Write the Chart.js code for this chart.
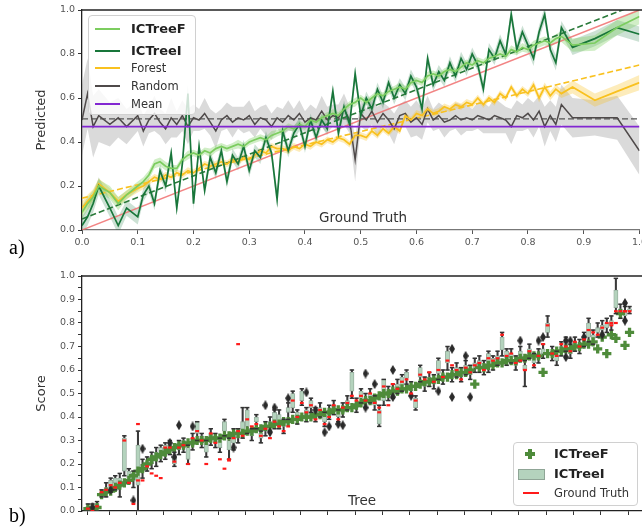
<!DOCTYPE html>
<html><head><meta charset="utf-8">
<script src="https://cdn.jsdelivr.net/npm/chart.js@4.4.1/dist/chart.umd.min.js"></script>
<style>
html,body{margin:0;padding:0;background:#fff;overflow:hidden;width:642px;height:529px;}
#wrap{position:relative;width:642px;height:529px;overflow:hidden;background:#fff;}
canvas{position:absolute;left:0;}
#c1{top:0;}
#c2{top:262px;}
.ov{position:absolute;font-family:"DejaVu Sans",sans-serif;color:#333;white-space:nowrap;}
.serif{position:absolute;font-family:"Liberation Serif","DejaVu Serif",serif;font-size:20px;color:#000;}
.box{position:absolute;background:rgba(255,255,255,0.8);border:1px solid #d0d0d0;border-radius:4px;}
.sw{position:absolute;height:2px;}
.lt{position:absolute;font-family:"DejaVu Sans",sans-serif;font-size:11.5px;line-height:14px;color:#333;white-space:nowrap;}
.lt.b{font-weight:bold;font-size:13px;color:#222;}
</style></head>
<body><div id="wrap">
<canvas id="c1" width="650" height="255"></canvas>
<canvas id="c2" width="652" height="267"></canvas>

<div class="box" style="left:88px;top:15px;width:106px;height:98px;"></div>
<div class="sw" style="left:95px;top:28px;width:25px;background:#7ccd5f"></div>
<div class="lt b" style="left:131px;top:22px">ICTreeF</div>
<div class="sw" style="left:95px;top:50px;width:25px;background:#18763a"></div>
<div class="lt b" style="left:131px;top:44px">ICTreeI</div>
<div class="sw" style="left:95px;top:67px;width:25px;background:#f9c11f"></div>
<div class="lt" style="left:131px;top:61px">Forest</div>
<div class="sw" style="left:95px;top:85px;width:25px;background:#4f4a4a"></div>
<div class="lt" style="left:131px;top:79px">Random</div>
<div class="sw" style="left:95px;top:103px;width:25px;background:#8227d1"></div>
<div class="lt" style="left:131px;top:97px">Mean</div>

<div class="ov" style="left:363px;top:209px;font-size:13.5px;transform:translateX(-50%);">Ground Truth</div>
<div class="ov" style="left:362px;top:492px;font-size:13.5px;transform:translateX(-50%);">Tree</div>
<div class="serif" style="left:9px;top:236px;">a)</div>
<div class="serif" style="left:9px;top:504px;">b)</div>

<div class="box" style="left:513px;top:442px;width:123px;height:62px;"></div>
<div style="position:absolute;left:525px;top:452px;width:10px;height:3.5px;background:#4e8b3a"></div>
<div style="position:absolute;left:528.3px;top:448.7px;width:3.5px;height:10px;background:#4e8b3a"></div>
<div class="lt b" style="left:554px;top:447px">ICTreeF</div>
<div style="position:absolute;left:518px;top:469px;width:25px;height:9px;background:#b4d3bd;border:1px solid #8fa596"></div>
<div class="lt b" style="left:554px;top:467px">ICTreeI</div>
<div style="position:absolute;left:523px;top:492px;width:16px;height:1.5px;background:#ff1a1a"></div>
<div class="lt" style="left:554px;top:486px;">Ground Truth</div>
</div>
<script>
// ---------- Panel a) data ----------
const xs = [0,0.01,0.02,0.03,0.05,0.065,0.08,0.10,
 0.11,0.12,0.13,0.14,0.15,0.16,0.17,0.18,0.19,0.20,
 0.21,0.22,0.23,0.24,0.25,0.26,0.27,0.28,0.29,0.30,
 0.31,0.32,0.33,0.34,0.35,0.36,0.37,0.38,0.39,0.40,
 0.41,0.42,0.43,0.44,0.45,0.46,0.47,0.48,0.49,0.50,
 0.51,0.52,0.53,0.54,0.55,0.56,0.57,0.58,0.59,0.60,
 0.61,0.62,0.63,0.64,0.65,0.66,0.67,0.68,0.69,0.70,
 0.71,0.72,0.73,0.74,0.75,0.76,0.77,0.78,0.79,0.80,
 0.81,0.82,0.83,0.84,0.85,0.86,
 0.88,0.92,0.96,1.00];
const icTreeF = [0.08,0.12,0.15,0.20,0.17,0.12,0.16,0.20,
 0.22,0.25,0.30,0.31,0.29,0.28,0.28,0.32,0.34,0.35,
 0.34,0.36,0.35,0.37,0.38,0.37,0.38,0.39,0.38,0.40,
 0.41,0.42,0.41,0.43,0.44,0.45,0.47,0.46,0.48,0.47,
 0.50,0.49,0.51,0.52,0.53,0.52,0.55,0.57,0.58,0.60,
 0.58,0.60,0.62,0.61,0.63,0.64,0.65,0.64,0.67,0.68,
 0.67,0.70,0.71,0.70,0.72,0.73,0.72,0.74,0.76,0.75,
 0.77,0.76,0.78,0.79,0.80,0.79,0.82,0.81,0.83,0.82,
 0.84,0.85,0.86,0.85,0.87,0.88,
 0.84,0.85,0.92,0.97];
const icTreeI = [0.02,0.06,0.12,0.20,0.10,0.02,0.10,0.06,
 0.16,0.20,0.12,0.27,0.20,0.35,0.10,0.30,0.62,0.12,
 0.38,0.18,0.33,0.26,0.36,0.22,0.34,0.30,0.38,0.27,
 0.36,0.33,0.42,0.35,0.14,0.45,0.36,0.44,0.48,0.38,
 0.50,0.42,0.50,0.46,0.63,0.44,0.56,0.48,0.71,0.52,
 0.60,0.55,0.64,0.58,0.67,0.60,0.66,0.62,0.70,0.65,
 0.55,0.78,0.66,0.72,0.68,0.76,0.70,0.78,0.73,0.80,
 0.75,0.64,0.82,0.78,0.86,0.80,0.98,0.82,0.90,0.84,
 0.78,0.90,0.98,0.82,0.76,0.92,
 0.83,0.87,0.92,0.89];
const forest = [0.10,0.13,0.16,0.21,0.17,0.13,0.16,0.19,
 0.20,0.22,0.24,0.23,0.25,0.24,0.26,0.25,0.27,0.26,
 0.28,0.30,0.29,0.30,0.31,0.30,0.32,0.31,0.33,0.32,
 0.34,0.36,0.35,0.38,0.37,0.37,0.36,0.38,0.37,0.39,
 0.38,0.40,0.39,0.41,0.40,0.42,0.41,0.39,0.43,0.43,
 0.42,0.45,0.43,0.46,0.44,0.47,0.45,0.52,0.50,0.53,
 0.52,0.55,0.53,0.54,0.56,0.55,0.57,0.56,0.58,0.57,
 0.60,0.57,0.60,0.58,0.62,0.60,0.65,0.61,0.64,0.62,
 0.66,0.60,0.65,0.61,0.64,0.62,
 0.65,0.59,0.63,0.67];
const random = [0.50,0.62,0.47,0.52,0.48,0.51,0.47,0.52,
 0.45,0.50,0.53,0.49,0.46,0.51,0.48,0.52,0.47,0.51,
 0.50,0.53,0.49,0.45,0.50,0.52,0.49,0.51,0.50,0.52,
 0.48,0.51,0.50,0.47,0.51,0.49,0.52,0.50,0.53,0.49,
 0.51,0.50,0.54,0.50,0.52,0.51,0.55,0.50,0.32,0.53,
 0.50,0.54,0.49,0.53,0.50,0.46,0.52,0.53,0.49,0.51,
 0.48,0.55,0.50,0.52,0.49,0.50,0.52,0.50,0.51,0.50,
 0.52,0.51,0.50,0.52,0.51,0.50,0.47,0.52,0.51,0.53,
 0.50,0.54,0.47,0.52,0.48,0.57,
 0.51,0.51,0.51,0.36];
const icTreeFErr = [0.03,0.03,0.03,0.03,0.03,0.03,0.02,0.02,
 0.02,0.02,0.02,0.02,0.02,0.015,0.015,0.015,0.02,0.015,
 0.015,0.015,0.02,0.015,0.015,0.015,0.015,0.02,0.015,0.015,
 0.015,0.015,0.015,0.02,0.015,0.015,0.015,0.015,0.015,0.015,
 0.015,0.015,0.015,0.015,0.02,0.015,0.015,0.015,0.02,0.015,
 0.015,0.015,0.015,0.015,0.015,0.015,0.02,0.015,0.015,0.015,
 0.015,0.02,0.015,0.015,0.015,0.015,0.015,0.02,0.015,0.015,
 0.015,0.015,0.02,0.015,0.02,0.015,0.02,0.015,0.02,0.015,
 0.02,0.02,0.02,0.02,0.02,0.025,
 0.03,0.035,0.035,0.035];
const icTreeIErr = [0.04,0.04,0.04,0.04,0.04,0.04,0.035,0.035,
 0.03,0.03,0.03,0.03,0.03,0.03,0.03,0.03,0.04,0.03,
 0.03,0.03,0.03,0.03,0.03,0.03,0.03,0.03,0.03,0.03,
 0.03,0.03,0.03,0.03,0.04,0.03,0.03,0.03,0.03,0.03,
 0.03,0.03,0.03,0.03,0.035,0.03,0.03,0.03,0.035,0.03,
 0.03,0.03,0.03,0.03,0.03,0.03,0.03,0.03,0.03,0.03,
 0.035,0.03,0.03,0.03,0.03,0.03,0.03,0.03,0.03,0.03,
 0.03,0.035,0.03,0.03,0.03,0.03,0.035,0.03,0.03,0.03,
 0.035,0.03,0.035,0.03,0.035,0.03,
 0.035,0.035,0.035,0.035];
const forestErr = [0.03,0.03,0.025,0.025,0.02,0.02,0.02,0.02,
 0.015,0.015,0.015,0.015,0.015,0.015,0.015,0.015,0.015,0.015,
 0.015,0.015,0.015,0.015,0.015,0.015,0.015,0.015,0.015,0.015,
 0.015,0.015,0.015,0.015,0.015,0.015,0.015,0.015,0.015,0.015,
 0.015,0.015,0.015,0.015,0.015,0.015,0.015,0.015,0.015,0.015,
 0.015,0.015,0.015,0.015,0.015,0.015,0.015,0.015,0.015,0.015,
 0.015,0.015,0.015,0.015,0.015,0.015,0.015,0.015,0.015,0.015,
 0.015,0.015,0.015,0.015,0.015,0.015,0.015,0.015,0.015,0.015,
 0.02,0.02,0.02,0.02,0.02,0.02,
 0.03,0.03,0.03,0.035];
const randomErr = [0.16,0.16,0.14,0.12,0.10,0.09,0.08,0.07,
 0.07,0.06,0.08,0.06,0.07,0.09,0.06,0.07,0.08,0.06,
 0.05,0.07,0.06,0.08,0.05,0.06,0.07,0.05,0.06,0.07,
 0.06,0.05,0.07,0.06,0.05,0.06,0.07,0.05,0.06,0.05,
 0.06,0.05,0.07,0.06,0.05,0.06,0.07,0.06,0.10,0.06,
 0.05,0.06,0.07,0.05,0.06,0.07,0.05,0.06,0.07,0.08,
 0.07,0.06,0.05,0.06,0.07,0.05,0.06,0.07,0.06,0.05,
 0.06,0.07,0.06,0.08,0.07,0.06,0.08,0.07,0.06,0.07,
 0.08,0.07,0.09,0.07,0.08,0.09,
 0.09,0.08,0.10,0.11];
const regX = [0, 1];
const regICTreeI = [0.05, 1.03];
const regForest = [0.145, 0.75];
const regRandom = [0.505, 0.505];
const truthDiag = [0, 1];
const meanVal = [0.47, 0.47];
const xTicksA = [0,0.1,0.2,0.3,0.4,0.5,0.6,0.7,0.8,0.9,1.0];

// ---------- Panel b) data (per tree, index = tree rank) ----------
const treeF = [.01,.01,.015,.07,.08,.085,.10,.11,.12,.13,
 .15,.17,.18,.20,.22,.23,.24,.25,.26,.27,
 .28,.28,.29,.29,.30,.30,.30,.31,.31,.31,
 .32,.32,.33,.33,.33,.34,.34,.35,.35,.36,
 .36,.37,.37,.38,.38,.39,.39,.40,.40,.40,
 .41,.41,.42,.42,.43,.43,.43,.44,.44,.45,
 .46,.47,.47,.48,.49,.50,.50,.51,.51,.52,
 .52,.53,.53,.54,.55,.55,.56,.56,.57,.57,
 .58,.58,.59,.59,.60,.54,.61,.61,.62,.62,
 .63,.63,.64,.64,.64,.65,.65,.66,.66,.66,
 .59,.67,.67,.68,.68,.69,.69,.70,.70,.71,
 .71,.72,.69,.74,.67,.75,.735,.84,.705,.76];
const boxLo = [.00,.01,.01,.07,.08,.10,.12,.10,.17,.14,
 .13,.11,.17,.19,.20,.22,.24,.25,.26,.20,
 .26,.27,.22,.28,.33,.29,.25,.30,.29,.27,
 .34,.26,.29,.31,.33,.36,.32,.38,.31,.34,
 .36,.37,.38,.36,.42,.44,.40,.47,.41,.44,
 .40,.42,.38,.41,.43,.40,.42,.45,.51,.44,
 .48,.46,.48,.45,.37,.47,.49,.50,.52,.53,
 .565,.51,.44,.57,.53,.55,.54,.585,.56,.63,
 .57,.59,.57,.60,.58,.61,.61,.60,.61,.62,
 .64,.685,.64,.65,.62,.66,.60,.67,.63,.65,
 .67,.76,.66,.64,.68,.70,.67,.70,.69,.72,
 .74,.73,.76,.77,.78,.79,.865,.84,.83,.85];
const boxHi = [.02,.02,.03,.08,.10,.13,.14,.14,.31,.17,
 .16,.28,.20,.21,.23,.25,.27,.28,.28,.23,
 .29,.30,.27,.31,.38,.32,.29,.33,.32,.30,
 .38,.30,.33,.34,.38,.43,.34,.40,.33,.36,
 .38,.42,.41,.38,.44,.50,.42,.51,.43,.47,
 .42,.44,.41,.43,.45,.42,.44,.47,.59,.46,
 .51,.48,.50,.47,.43,.56,.51,.52,.54,.57,
 .59,.53,.48,.61,.55,.57,.56,.64,.58,.68,
 .59,.61,.59,.62,.60,.63,.64,.62,.67,.65,
 .66,.74,.68,.67,.64,.68,.62,.69,.65,.67,
 .69,.80,.68,.66,.70,.72,.69,.72,.71,.74,
 .80,.75,.78,.79,.80,.81,.94,.86,.85,.86];
const whiskLo = [.00,.00,.00,.06,.06,.08,.09,.06,.15,.12,
 .10,.00,.14,.17,.18,.19,.21,.22,.24,.19,
 .24,.25,.20,.26,.30,.27,.23,.28,.27,.25,
 .32,.22,.26,.29,.31,.33,.30,.35,.29,.32,
 .34,.35,.35,.33,.39,.42,.37,.45,.38,.42,
 .38,.40,.36,.39,.41,.38,.40,.43,.48,.42,
 .46,.44,.46,.43,.36,.45,.47,.48,.50,.51,
 .54,.49,.43,.55,.51,.53,.52,.56,.54,.60,
 .55,.57,.55,.58,.56,.59,.59,.58,.59,.60,
 .62,.66,.62,.63,.60,.64,.53,.65,.61,.63,
 .65,.74,.64,.62,.66,.68,.65,.68,.67,.70,
 .72,.71,.74,.75,.76,.77,.84,.82,.81,.84];
const whiskHi = [.03,.03,.04,.09,.12,.14,.15,.16,.32,.18,
 .17,.34,.22,.23,.25,.27,.28,.29,.30,.25,
 .30,.31,.28,.33,.38,.33,.30,.35,.33,.31,
 .39,.31,.35,.35,.44,.44,.35,.41,.34,.38,
 .40,.43,.43,.39,.46,.51,.43,.52,.44,.48,
 .44,.46,.42,.45,.47,.43,.46,.49,.60,.48,
 .52,.50,.52,.49,.45,.56,.53,.54,.56,.58,
 .60,.55,.49,.62,.57,.59,.58,.65,.60,.70,
 .61,.63,.61,.64,.62,.65,.66,.64,.68,.66,
 .68,.76,.69,.69,.66,.70,.64,.71,.67,.69,
 .71,.83,.70,.68,.72,.74,.71,.74,.73,.76,
 .82,.77,.80,.81,.82,.83,.99,.88,.87,.87];
const truth = [.01,.00,.02,.08,.09,.11,.10,.12,.30,.12,
 .03,.37,.13,.19,.16,.15,.14,.27,.27,.21,
 .27,.28,.20,.31,.34,.30,.20,.33,.29,.22,
 .18,.22,.31,.34,.32,.39,.36,.37,.32,.35,
 .31,.38,.36,.34,.36,.47,.40,.46,.42,.45,
 .39,.43,.37,.40,.45,.39,.44,.46,.49,.47,
 .49,.47,.50,.46,.42,.53,.45,.54,.52,.55,
 .56,.50,.47,.58,.56,.59,.55,.60,.57,.64,
 .62,.60,.56,.61,.59,.62,.63,.60,.65,.64,
 .65,.75,.66,.67,.63,.64,.60,.68,.62,.66,
 .71,.79,.67,.66,.71,.70,.68,.72,.70,.73,
 .77,.76,.75,.78,.80,.79,.85,.85,.85,.85];
const outlierTree = [1,5,10,12,18,19,20,23,32,40,41,44,48,52,53,55,56,61,61,63,67,67,71,77,80,80,83,84,95,99,100,105,106,105,109,113,118,118,39,50];
const outlierVal  = [.015,.09,.045,.265,.29,.23,.365,.36,.27,.335,.44,.48,.505,.335,.36,.37,.365,.585,.44,.54,.60,.485,.49,.51,.69,.485,.66,.485,.725,.725,.74,.725,.725,.655,.74,.75,.885,.81,.45,.43];
const extraTruthTree = [11,33,31,64,96,115,116,118];
const extraTruthVal  = [.13,.71,.215,.44,.60,.80,.80,.85];

// ---------- helpers ----------
const FONT = '"DejaVu Sans", sans-serif';
const tickFont = {family: FONT, size: 9.5};
const pts = (xv, yv) => xv.map((x, i) => ({x, y: yv[i]}));
const band = (yv, ev, s) => xs.map((x, i) => ({x, y: yv[i] + s * ev[i]}));

const frame = {
  id: 'frame',
  afterDraw(chart) {
    const {ctx, chartArea: a} = chart;
    ctx.save();
    ctx.strokeStyle = '#222';
    ctx.lineWidth = 1.3;
    ctx.beginPath();
    ctx.moveTo(a.left, a.top); ctx.lineTo(a.right + 20, a.top);
    ctx.stroke();
    ctx.restore();
  }
};

function lineDs(data, color, width, extra) {
  return Object.assign({type: 'line', data, borderColor: color, borderWidth: width, pointRadius: 0, fill: false, tension: 0}, extra || {});
}
function bandDs(data, fillColor, fillTo) {
  return {type: 'line', data, borderWidth: 0, borderColor: 'rgba(0,0,0,0)', pointRadius: 0, backgroundColor: fillColor, fill: fillTo, tension: 0};
}

// ---------- chart a ----------
new Chart(document.getElementById('c1'), {
  type: 'line',
  data: {datasets: [
    lineDs(pts(regX, meanVal), '#8227d1', 1.8),
    lineDs(pts(xs, icTreeF), '#7ccd5f', 1.7),
    lineDs(pts(xs, icTreeI), '#18763a', 1.7),
    lineDs(pts(xs, forest), '#f9c11f', 1.7),
    lineDs(pts(xs, random), '#4f4a4a', 1.5),
    lineDs(pts(regX, regICTreeI), '#2a7a3a', 1.6, {borderDash: [6, 3]}),
    lineDs(pts(regX, regForest), '#f9c11f', 1.6, {borderDash: [6, 3]}),
    lineDs(pts(regX, regRandom), '#555555', 1.4, {borderDash: [6, 3]}),
    lineDs(pts(regX, truthDiag), 'rgba(240,110,110,0.85)', 1.5),
    bandDs(band(icTreeF, icTreeFErr, 1), 'rgba(0,0,0,0)', false),
    bandDs(band(icTreeF, icTreeFErr, -1), 'rgba(124,205,95,0.35)', '-1'),
    bandDs(band(icTreeI, icTreeIErr, 1), 'rgba(0,0,0,0)', false),
    bandDs(band(icTreeI, icTreeIErr, -1), 'rgba(24,118,58,0.22)', '-1'),
    bandDs(band(forest, forestErr, 1), 'rgba(0,0,0,0)', false),
    bandDs(band(forest, forestErr, -1), 'rgba(249,193,31,0.3)', '-1'),
    bandDs(band(random, randomErr, 1), 'rgba(0,0,0,0)', false),
    bandDs(band(random, randomErr, -1), 'rgba(150,150,150,0.35)', '-1')
  ]},
  options: {
    responsive: false, animation: false,
    layout: {padding: {left: 34, top: 10, right: 0, bottom: 0}},
    plugins: {legend: {display: false}, tooltip: {enabled: false}},
    scales: {
      x: {type: 'linear', min: 0, max: 1,
        afterBuildTicks: s => { s.ticks = xTicksA.map(v => ({value: v})); },
        afterFit: s => { s.height = 25; },
        ticks: {font: tickFont, color: '#555', padding: 3, maxRotation: 0, autoSkip: false, callback: v => v.toFixed(1)},
        grid: {display: true, drawOnChartArea: false, tickLength: 4, color: '#555'},
        border: {color: '#777', width: 1.2}},
      y: {type: 'linear', min: 0, max: 1,
        afterFit: s => { s.width = 48; },
        ticks: {stepSize: 0.2, font: tickFont, color: '#555', padding: 3, callback: v => v.toFixed(1)},
        title: {display: true, text: 'Predicted', font: {family: FONT, size: 13}, color: '#333', padding: {top: 0, bottom: 4}},
        grid: {display: true, drawOnChartArea: false, tickLength: 4, color: '#333'},
        border: {color: '#222', width: 1.3}}
    }
  },
  plugins: [frame]
});

// ---------- chart b ----------
function thinDiamond(w, h, color) {
  const c = document.createElement('canvas');
  c.width = w; c.height = h;
  const g = c.getContext('2d');
  g.fillStyle = color;
  g.beginPath(); g.moveTo(w / 2, 0); g.lineTo(w, h / 2); g.lineTo(w / 2, h); g.lineTo(0, h / 2); g.closePath(); g.fill();
  return c;
}
const idx = treeF.map((_, i) => i);
const floatPts = (lo, hi) => idx.map(i => ({x: i, y: [lo[i], hi[i]]}));

new Chart(document.getElementById('c2'), {
  type: 'scatter',
  data: {datasets: [
    {type: 'scatter', data: pts(idx, truth), pointStyle: 'line', pointRadius: 1.9, pointBorderWidth: 2.2, borderColor: '#ff1a1a', backgroundColor: '#ff1a1a'},
    {type: 'scatter', data: pts(extraTruthTree, extraTruthVal), pointStyle: 'line', pointRadius: 1.9, pointBorderWidth: 2.2, borderColor: '#ff1a1a', backgroundColor: '#ff1a1a'},
    {type: 'scatter', data: pts(outlierTree, outlierVal), pointStyle: thinDiamond(6, 10, '#2a2a2a'), pointRadius: 4},
    {type: 'scatter', data: pts(idx, whiskLo), pointStyle: 'line', pointRadius: 2.2, pointBorderWidth: 1.5, borderColor: '#333'},
    {type: 'scatter', data: pts(idx, whiskHi), pointStyle: 'line', pointRadius: 2.2, pointBorderWidth: 1.5, borderColor: '#333'},
    {type: 'scatter', data: pts(idx, treeF), pointStyle: 'cross', pointRadius: 4.6, pointBorderWidth: 3.3, borderColor: '#4e8b3a', backgroundColor: '#4e8b3a'},
    {type: 'bar', data: floatPts(boxLo, boxHi), grouped: false, barThickness: 4.2, backgroundColor: '#b4d3bd', borderColor: '#8fa596', borderWidth: 0.8, borderSkipped: false},
    {type: 'bar', data: floatPts(whiskLo, whiskHi), grouped: false, barThickness: 1.4, backgroundColor: '#3a3a3a', borderWidth: 0, borderSkipped: false}
  ]},
  options: {
    responsive: false, animation: false,
    layout: {padding: {left: 34, top: 14, right: 0, bottom: 0}},
    plugins: {legend: {display: false}, tooltip: {enabled: false}},
    scales: {
      x: {type: 'linear', min: -1.3, max: 122.2, offset: false,
        afterBuildTicks: s => { const t = [{value: 0}]; for (let v = s.min + 6; v <= s.max; v += 6) t.push({value: v}); s.ticks = t; },
        afterFit: s => { s.height = 18; },
        ticks: {display: false},
        grid: {display: true, drawOnChartArea: false, tickLength: 4, color: '#333', offset: false},
        border: {color: '#222', width: 1.3}},
      y: {type: 'linear', min: 0, max: 1,
        afterFit: s => { s.width = 48; },
        ticks: {stepSize: 0.05, font: tickFont, color: '#555', padding: 3, autoSkip: false,
          callback: (v, i) => (i % 2 === 0 ? v.toFixed(1) : '')},
        title: {display: true, text: 'Score', font: {family: FONT, size: 13}, color: '#333', padding: {top: 0, bottom: 4}},
        grid: {display: true, drawOnChartArea: false, tickLength: 4, color: '#333'},
        border: {color: '#222', width: 1.3}}
    }
  },
  plugins: [frame]
});
</script>
</body></html>
